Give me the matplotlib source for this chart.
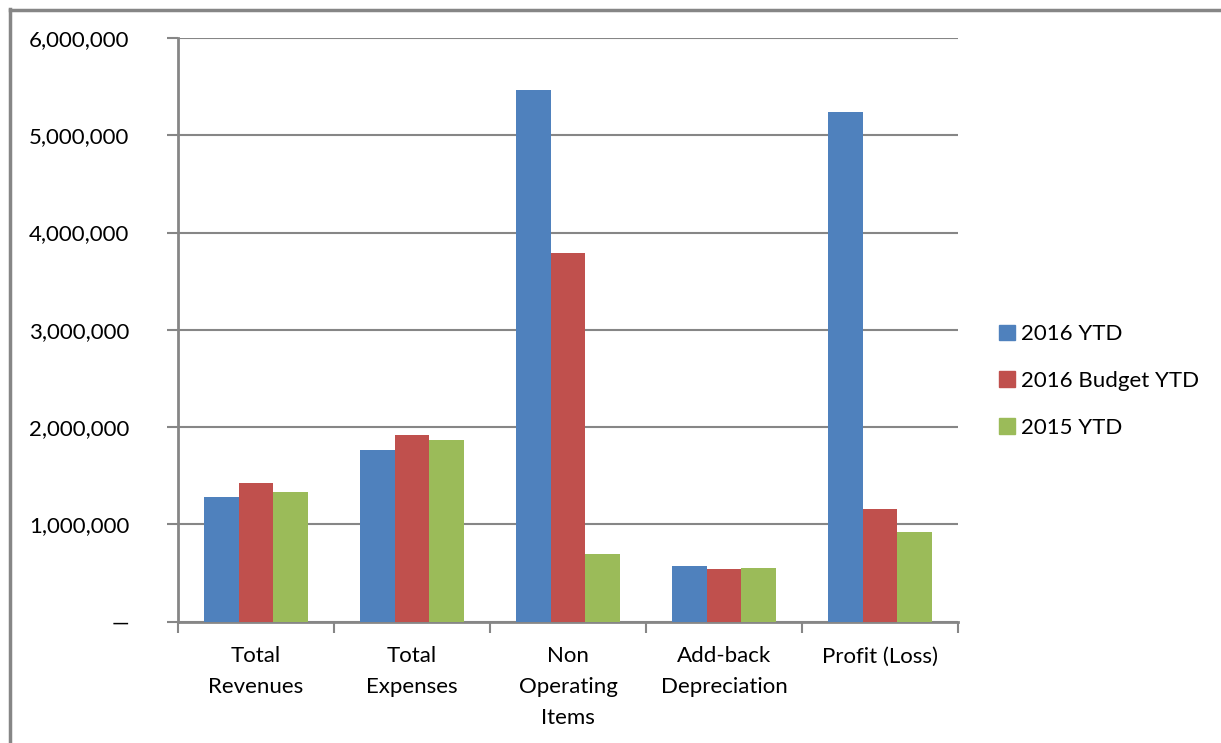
import matplotlib
matplotlib.use("Agg")
import matplotlib.pyplot as plt
import numpy as np
from matplotlib.ticker import FuncFormatter
from matplotlib.lines import Line2D

categories = ["Total\nRevenues", "Total\nExpenses", "Non\nOperating\nItems",
              "Add-back\nDepreciation", "Profit (Loss)"]
series_names = ["2016 YTD", "2016 Budget YTD", "2015 YTD"]
ytd_2016 = [1283000, 1768000, 5468000, 571000, 5242000]
budget_2016 = [1428000, 1918000, 3791000, 540000, 1157000]
ytd_2015 = [1335000, 1871000, 694000, 550000, 921000]
colors = ["#4F81BD", "#C0504D", "#9BBB59"]

W, H = 1221, 743
plt.rcParams['font.family'] = ['Lato', 'DejaVu Sans']
fig = plt.figure(figsize=(W/100, H/100), dpi=100)
ax = fig.add_axes([178/W, 1-621.5/H, (958-178)/W, (621.5-38)/H])

x = np.arange(len(categories))
bw = 1/4.5
for i, (vals, name) in enumerate(zip([ytd_2016, budget_2016, ytd_2015], series_names)):
    ax.bar(x + (i-1)*bw, vals, width=bw, color=colors[i], label=name, zorder=3)

ax.set_xlim(-0.5, len(categories)-0.5)
ax.set_ylim(0, 6000000)
ax.set_yticks(np.arange(0, 6000001, 1000000))
ax.yaxis.set_major_formatter(FuncFormatter(lambda v, p: "—" if v == 0 else f"{int(v):,}"))
ax.grid(axis='y', color='#868686', linewidth=1.5, zorder=0)
ax.set_axisbelow(True)

ax.set_xticks(np.arange(-0.5, len(categories)), labels=[""]*(len(categories)+1))
ax.set_xticks(x, labels=categories, minor=True)
ax.tick_params(axis='x', which='major', length=8, width=1.5, color='#868686', direction='out')
ax.tick_params(axis='x', which='minor', length=0, pad=18, labelsize=16)
ax.tick_params(axis='y', length=8, width=1.5, color='#868686', direction='out', pad=27, labelsize=16)
for lab in ax.get_xticklabels(minor=True):
    lab.set_linespacing(1.68)

for s in ['top', 'right']:
    ax.spines[s].set_visible(False)
for s in ['left', 'bottom']:
    ax.spines[s].set_color('#868686')
    ax.spines[s].set_linewidth(2)

handles = [plt.Rectangle((0, 0), 1, 1, color=c) for c in colors]
fig.legend(handles, series_names, loc='center left', bbox_to_anchor=(988/W, 1-381/H),
           frameon=False, fontsize=16, handlelength=0.7, handleheight=0.7,
           handletextpad=0.3, labelspacing=1.2, borderpad=0)

# outer chart border (top and left visible)
fig.add_artist(Line2D([10/W, 10/W], [0, 1-9/H], color='#868686', linewidth=2.5, transform=fig.transFigure))
fig.add_artist(Line2D([10/W, 1], [1-9.5/H, 1-9.5/H], color='#868686', linewidth=2.5, transform=fig.transFigure))

fig.savefig("out.png", dpi=100)
